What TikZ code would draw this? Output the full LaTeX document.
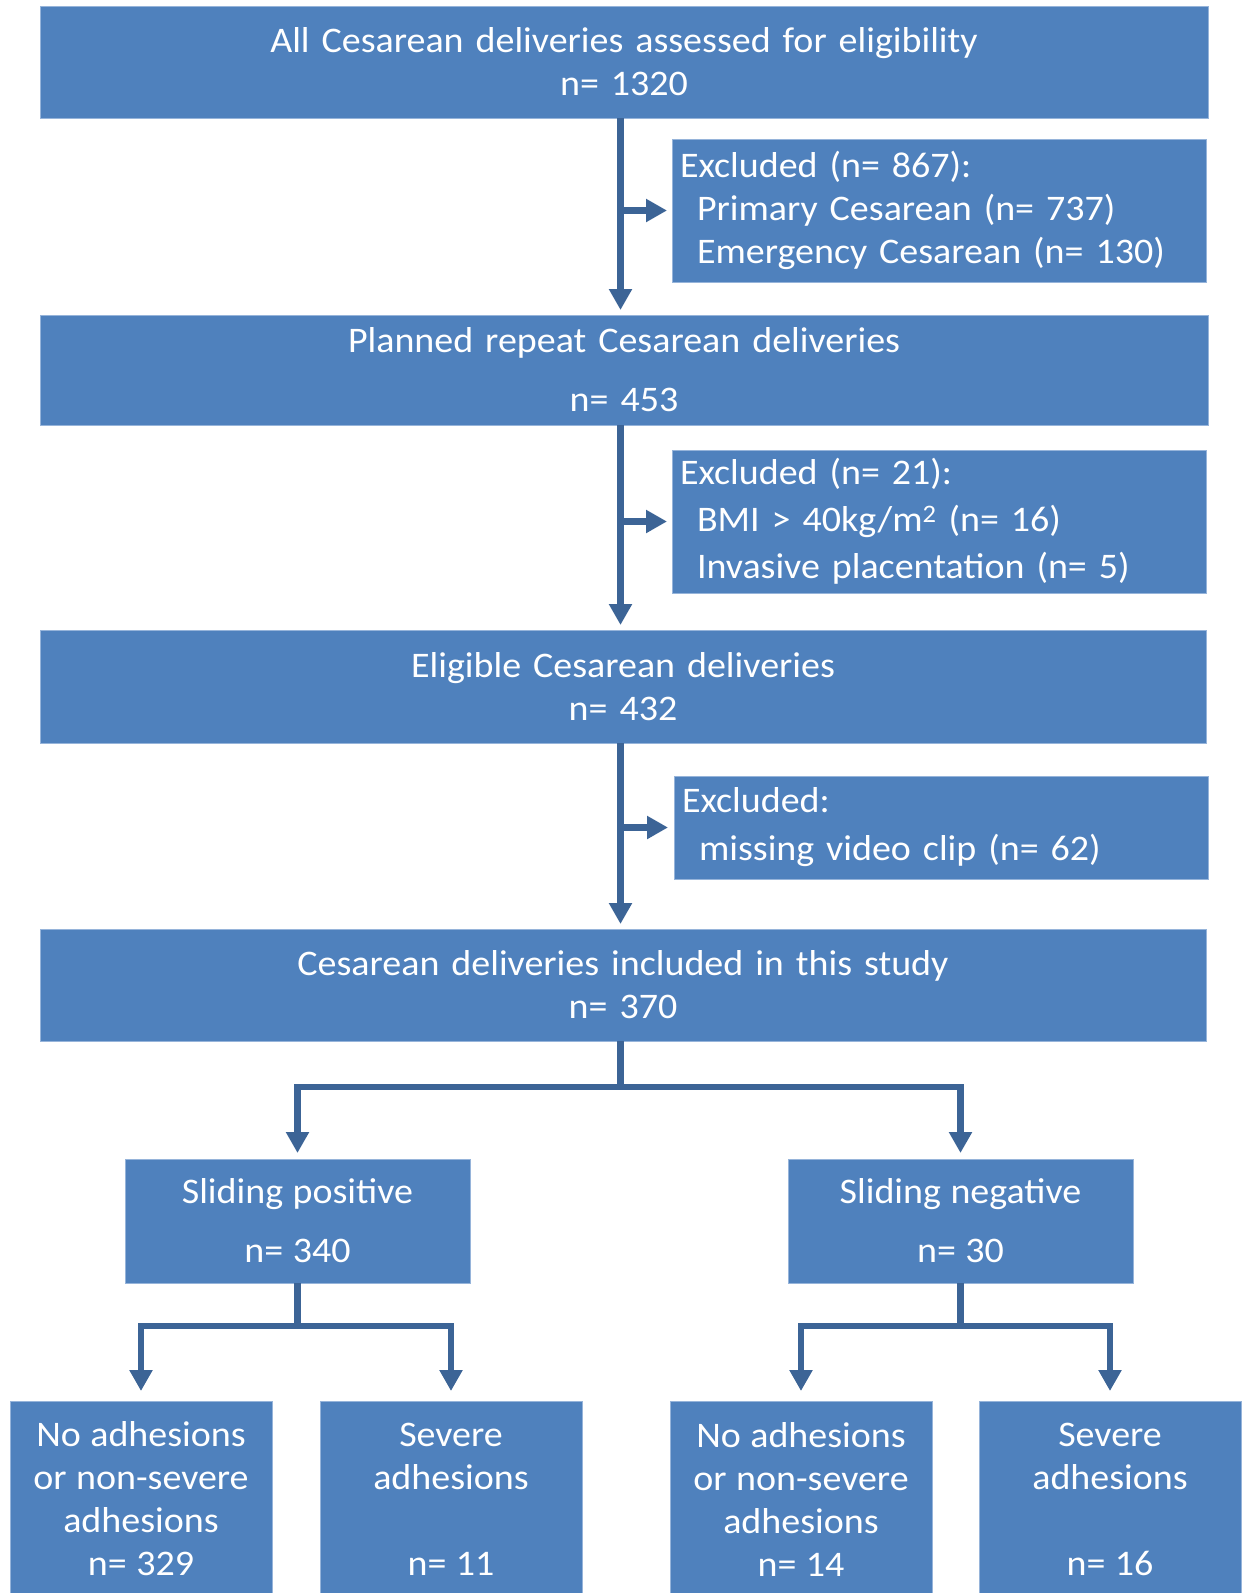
\documentclass[tikz,border=0pt]{standalone}
\usepackage{fontspec}
\setmainfont[FakeStretch=1.055]{Carlito}
\newcommand*{\chartfont}{\fontsize{36}{43}\selectfont}
\newcommand*{\widespace}{\spaceskip=12pt\relax}
\newcommand*{\plainspace}{\spaceskip=9.5pt\relax}
\definecolor{boxfill}{RGB}{79,129,189}
\definecolor{boxedge}{RGB}{150,180,218}
\definecolor{flowline}{RGB}{60,100,150}
\usepackage{tikz}
\usetikzlibrary{arrows.meta}
\usetikzlibrary{positioning}
\tikzstyle{base}=[x=1pt, y=-1pt, inner sep=0pt, outer sep=0pt]
\tikzstyle{stage}=[draw=boxedge, line width=1pt, fill=boxfill, text=white, align=center, minimum width=1168pt, minimum height=112pt, font=\widespace]
\tikzstyle{excl}=[stage, align=left, minimum width=534pt, minimum height=143pt, text width=518pt, font=\plainspace]
\tikzstyle{group}=[stage, minimum width=345pt, minimum height=124pt, font=\plainspace]
\tikzstyle{leaf}=[stage, minimum width=262pt, minimum height=196pt, font=\plainspace]
\tikzstyle{flow}=[flowline, line width=6.5pt, -{Triangle[width=22pt,length=21pt]}]
\tikzstyle{tree}=[flowline, line width=6.5pt]

\begin{document}
\begin{tikzpicture}[base]
    \chartfont
        \path [use as bounding box] (0,0) rectangle (1242,1593);
        \clip (0,0) rectangle (1242,1593);
        \coordinate (spine) at (620.5,0);
        % main stages
        \node [stage] (all) at (624,62) {All Cesarean deliveries assessed for eligibility\\n= 1320};
        \node [stage, minimum height=110pt] (planned) at (624,370) {Planned repeat Cesarean deliveries\\[16pt]n= 453};
        \node [stage, minimum width=1166pt, minimum height=113pt] (eligible) at (623,686.5) {Eligible Cesarean deliveries\\n= 432};
        \node [stage, minimum width=1166pt] (included) at (623,985) {Cesarean deliveries included in this study\\n= 370};
        % exclusions
        \node [excl] (excl1) at (939,210.5) {Excluded (n= 867):\\\hspace*{17pt}Primary Cesarean (n= 737)\\\hspace*{17pt}Emergency Cesarean (n= 130)};
        \node [excl] (excl2) at (939,521.5) {Excluded (n= 21):\\[4pt]\hspace*{17pt}BMI > 40kg/m\textsuperscript{2} (n= 16)\\[4pt]\hspace*{17pt}Invasive placentation (n= 5)};
        \node [excl, minimum height=103pt] (excl3) at (941,827.5) {Excluded:\\[5pt]\hspace*{17pt}missing video clip (n= 62)};
        % sliding groups
        \node [group] (slidepos) at (297.5,1221) {Sliding positive\\[16pt]n= 340};
        \node [group] (slideneg) at (960.5,1221) {Sliding negative\\[16pt]n= 30};
        % adhesion outcomes
        \node [leaf] (posnone) at (141,1499) {No adhesions\\or non-severe\\adhesions\\n= 329};
        \node [leaf] (possevere) at (451,1499) {Severe\\adhesions\\~\\n= 11};
        \node [leaf] (negnone) at (801,1499) {No adhesions\\or non-severe\\adhesions\\n= 14};
        \node [leaf] (negsevere) at (1110,1499) {Severe\\adhesions\\~\\n= 16};
        % flow down the spine
        \draw [flow, shorten >=5pt] (all.south -| spine) -- (planned.north -| spine);
        \draw [flow, shorten >=5pt] (planned.south -| spine) -- (eligible.north -| spine);
        \draw [flow, shorten >=5pt] (eligible.south -| spine) -- (included.north -| spine);
        \draw [flow, shorten >=5pt] (excl1.west -| spine) -- (excl1.west);
        \draw [flow, shorten >=5pt] (excl2.west -| spine) -- (excl2.west);
        \draw [flow, shorten >=6pt] (excl3.west -| spine) -- (excl3.west);
        % split into groups
        \draw [tree] (included.south -| spine) -- ++(0,46) coordinate (split);
        \draw [flow, shorten >=6pt] (split) -| (slidepos.north);
        \draw [flow, shorten >=6pt] (split) -| (slideneg.north);
        \draw [tree] (slidepos.south) -- ++(0,43) coordinate (possplit);
        \draw [flow, shorten >=10pt] (possplit) -| (posnone.north);
        \draw [flow, shorten >=10pt] (possplit) -| (possevere.north);
        \draw [tree] (slideneg.south) -- ++(0,43) coordinate (negsplit);
        \draw [flow, shorten >=10pt] (negsplit) -| (negnone.north);
        \draw [flow, shorten >=10pt] (negsplit) -| (negsevere.north);
    \end{tikzpicture}
\end{document}
